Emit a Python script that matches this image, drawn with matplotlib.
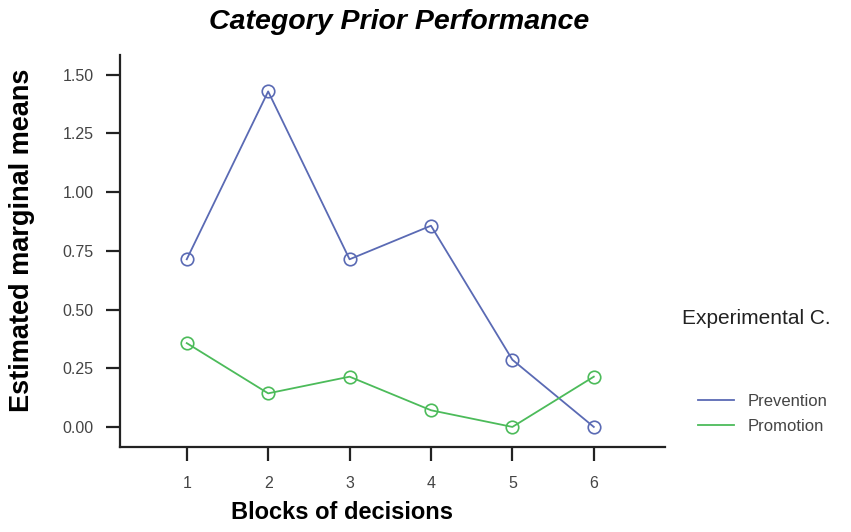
import matplotlib
matplotlib.use("Agg")
from matplotlib import pyplot as plt

plt.rcParams['font.family'] = ['Liberation Sans', 'DejaVu Sans']

blocks = [1, 2, 3, 4, 5, 6]
prevention = [0.714, 1.429, 0.714, 0.857, 0.286, 0.0]
promotion = [0.357, 0.143, 0.214, 0.071, 0.0, 0.214]
yticks = [0.0, 0.25, 0.5, 0.75, 1.0, 1.25, 1.5]

blue = '#5a6ab4'
green = '#4cbb5a'

fig = plt.figure(figsize=(8.51, 5.32), dpi=100)
ax = fig.add_axes([0.141, 0.160, 0.640, 0.737])

ax.plot(blocks, prevention, color=blue, lw=1.3, marker='o', ms=9,
        mfc='none', mec=blue, mew=1.2, label='Prevention')
ax.plot(blocks, promotion, color=green, lw=1.3, marker='o', ms=9,
        mfc='none', mec=green, mew=1.2, label='Promotion')

ax.set_xlim(0.18, 6.87)
ax.set_ylim(-0.085, 1.585)
ax.set_xticks(blocks)
ax.set_yticks(yticks)
ax.set_yticklabels(['%.2f' % v for v in yticks])

for s in ['top', 'right']:
    ax.spines[s].set_visible(False)
for s in ['left', 'bottom']:
    ax.spines[s].set_linewidth(1.6)
    ax.spines[s].set_color('#222222')
ax.tick_params(axis='both', length=10, width=1.6, color='#222222',
               labelsize=11.5, labelcolor='#444444')
ax.tick_params(axis='y', pad=9)
ax.tick_params(axis='x', pad=11)

# axis labels placed in figure coords to match the original
fig.text(0.402, 0.036, 'Blocks of decisions', fontsize=17, fontweight='bold',
         ha='center', va='center')
fig.text(0.026, 0.549, 'Estimated marginal means', fontsize=19.5,
         fontweight='bold', rotation=90, ha='center', va='center')
fig.text(0.469, 0.958, 'Category Prior Performance', fontsize=20.5,
         fontweight='bold', fontstyle='italic', ha='center', va='center')

fig.text(0.801, 0.402, 'Experimental C.', fontsize=15, color='#222222',
         ha='left', va='center')
ax.legend(loc='center left', bbox_to_anchor=(0.802, 0.222),
          bbox_transform=fig.transFigure, frameon=False, fontsize=12,
          handlelength=2.2, handletextpad=0.8, labelcolor='#444444',
          markerscale=0, labelspacing=0.6)

fig.savefig('out.png', dpi=100)
